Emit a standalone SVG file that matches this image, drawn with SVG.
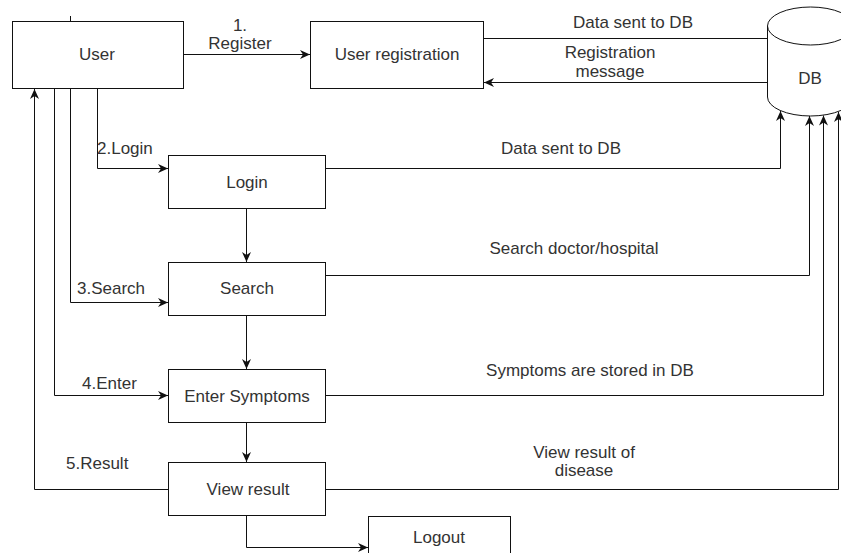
<svg xmlns="http://www.w3.org/2000/svg" width="841" height="553" viewBox="0 0 841 553">
<style>
.box{fill:#fff;stroke:#111;stroke-width:1}
.ln{fill:none;stroke:#111;stroke-width:1}
.arr{marker-end:url(#ah)}
text{font-family:"Liberation Sans",Arial,sans-serif;font-size:17px;fill:#333;text-anchor:middle}
.l{text-anchor:start}
</style>
<defs>
<marker id="ah" markerUnits="userSpaceOnUse" markerWidth="11" markerHeight="9" refX="10" refY="4.5" orient="auto">
<path d="M0,0 L10,4.5 L0,9 L3,4.5 z" fill="#111"/>
</marker>
</defs>
<rect width="841" height="553" fill="#fff"/>
<g id="connectors">
<path class="ln" d="M70.5,16 V21"/>
<path class="ln arr" d="M183,54.5 H310"/>
<path class="ln" d="M483.5,38.5 H767"/>
<path class="ln arr" d="M767,82.5 H484"/>
<path class="ln arr" d="M97.5,88 V168.5 H168"/>
<path class="ln arr" d="M70.5,88 V302.5 H168"/>
<path class="ln arr" d="M54.5,88 V395.5 H168"/>
<path class="ln arr" d="M168,489.5 H34.5 V89"/>
<path class="ln arr" d="M246.5,208 V262"/>
<path class="ln arr" d="M246.5,315 V369"/>
<path class="ln arr" d="M246.5,422 V462"/>
<path class="ln arr" d="M246.5,515 V547.5 H368"/>
<path class="ln arr" d="M325,168.5 H780.5 V111"/>
<path class="ln arr" d="M325,275.5 H809.5 V116"/>
<path class="ln arr" d="M325,395.5 H823.5 V115.5"/>
<path class="ln arr" d="M325,489.5 H838.5 V112"/>
<text x="240" y="31">1.</text>
<text x="240" y="49">Register</text>
<text x="633" y="28">Data sent to DB</text>
<text x="610" y="58">Registration</text>
<text x="610" y="77">message</text>
<text x="561" y="154">Data sent to DB</text>
<text x="574" y="254">Search doctor/hospital</text>
<text x="590" y="376">Symptoms are stored in DB</text>
<text x="584" y="458">View result of</text>
<text x="584" y="476">disease</text>
<text class="l" x="97" y="154">2.Login</text>
<text class="l" x="77" y="294">3.Search</text>
<text class="l" x="82" y="389">4.Enter</text>
<text class="l" x="66" y="469">5.Result</text>
</g>
<g id="user">
<rect class="box" x="12.5" y="21.5" width="171" height="67"/>
<text x="97" y="60">User</text>
</g>
<g id="user-registration">
<rect class="box" x="310.5" y="21.5" width="173" height="67"/>
<text x="397" y="60">User registration</text>
</g>
<g id="db">
<path class="box" d="M767.5,26 A43,19 0 0,1 853.5,26 V97 A43,19 0 0,1 767.5,97 Z"/>
<path class="ln" d="M767.5,26 A43,19 0 0,0 853.5,26"/>
<text x="810" y="84">DB</text>
</g>
<g id="login">
<rect class="box" x="168.5" y="155.5" width="157" height="53"/>
<text x="247" y="188">Login</text>
</g>
<g id="search">
<rect class="box" x="168.5" y="262.5" width="157" height="53"/>
<text x="247" y="294">Search</text>
</g>
<g id="enter-symptoms">
<rect class="box" x="168.5" y="369.5" width="157" height="53"/>
<text x="247" y="402">Enter Symptoms</text>
</g>
<g id="view-result">
<rect class="box" x="168.5" y="462.5" width="157" height="53"/>
<text x="248" y="495">View result</text>
</g>
<g id="logout">
<rect class="box" x="368.5" y="516.5" width="142" height="50"/>
<text x="439" y="543">Logout</text>
</g>
</svg>
